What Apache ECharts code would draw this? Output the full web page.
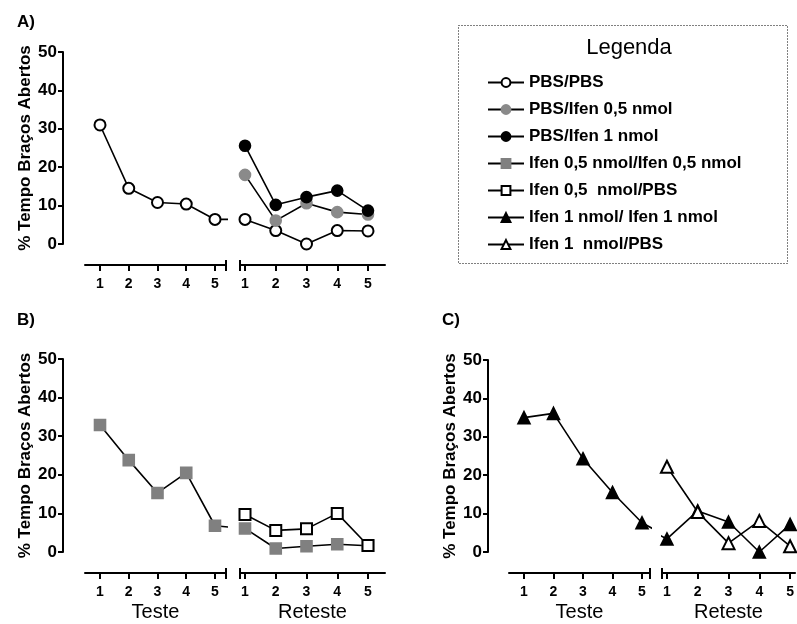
<!DOCTYPE html>
<head>
  <meta charset="utf-8">
  <script src="https://cdn.jsdelivr.net/npm/echarts@6/dist/echarts.min.js"></script>
  <style>
    body{margin:0;background:#fff;}
    #chart{width:797px;height:624px;}
  </style>
</head>
<body>
  <div id="chart"></div>
  <script>
    // sessions on both axes
    var sessions = [1, 2, 3, 4, 5];

    // A) PBS groups
    var pbsPbsTeste = [31, 14.5, 10.8, 10.4, 6.4];
    var pbsPbsReteste = [6.4, 3.5, 0, 3.5, 3.4];
    var pbsIfen05Reteste = [18, 6.1, 10.6, 8.3, 7.7];
    var pbsIfen1Reteste = [25.6, 10.2, 12.2, 13.9, 8.7];
    // B) Ifen 0,5 groups
    var ifen05Ifen05Teste = [32.9, 23.8, 15.3, 20.5, 6.8];
    var ifen05Ifen05Reteste = [6.1, 0.9, 1.5, 2.0, 1.6];
    var ifen05PbsReteste = [9.7, 5.6, 6.0, 10.0, 1.7];
    // C) Ifen 1 groups
    var ifen1Ifen1Teste = [35.0, 36.1, 24.3, 15.5, 7.6];
    var ifen1Ifen1Reteste = [3.4, 10.7, 7.8, 0, 7.2];
    var ifen1PbsReteste = [22.2, 10.4, 2.3, 8.1, 1.5];

    var names = ['PBS/PBS', 'PBS/Ifen 0,5 nmol', 'PBS/Ifen 1 nmol',
      'Ifen 0,5 nmol/Ifen 0,5 nmol', 'Ifen 0,5  nmol/PBS',
      'Ifen 1 nmol/ Ifen 1 nmol', 'Ifen 1  nmol/PBS'];

    var FONT = '"Liberation Sans", Arial, sans-serif';
    var styles = {};
    styles[names[0]] = {symbol: 'emptyCircle', color: '#000', size: 11};
    styles[names[1]] = {symbol: 'circle', color: '#8a8a8a', size: 11};
    styles[names[2]] = {symbol: 'circle', color: '#000', size: 11};
    styles[names[3]] = {symbol: 'rect', color: '#808080', size: 11};
    styles[names[4]] = {symbol: 'emptyRect', color: '#000', size: 11};
    styles[names[5]] = {symbol: 'triangle', color: '#000', size: 12};
    styles[names[6]] = {symbol: 'emptyTriangle', color: '#000', size: 12};

    // grid index: 0 A-teste, 1 A-reteste, 2 B-teste, 3 B-reteste, 4 C-teste, 5 C-reteste
    var grids = [
      {left: 85, top: 52, width: 141, height: 192},
      {left: 240, top: 52, width: 145, height: 192},
      {left: 85, top: 359, width: 141, height: 193},
      {left: 240, top: 359, width: 145, height: 193},
      {left: 509, top: 360, width: 141, height: 192},
      {left: 662, top: 360, width: 135, height: 192}
    ];
    var ranges = [[0.478, 5.383], [0.837, 5.553], [0.478, 5.383], [0.837, 5.553], [0.492, 5.271], [0.84, 5.16]];
    var axisNames = ['', '', 'Teste', 'Reteste', 'Teste', 'Reteste'];

    var xAxes = [], yAxes = [];
    grids.forEach(function(g, i){
      var isTeste = i % 2 === 0;
      var brk = isTeste ? ranges[i][1] : ranges[i][0];
      xAxes.push({
        type: 'value', gridIndex: i, min: ranges[i][0], max: ranges[i][1],
        position: 'bottom', offset: 21, splitLine: {show: false},
        axisLine: {show: true, onZero: false, lineStyle: {color: '#000', width: 2}},
        axisTick: {show: true, customValues: sessions.concat([brk]), length: 6, lineStyle: {color: '#000', width: 2}},
        axisLabel: {customValues: sessions, margin: 12, color: '#000', fontFamily: FONT, fontWeight: 'bold', fontSize: 14},
        name: axisNames[i], nameLocation: 'middle', nameGap: 29,
        nameTextStyle: {color: '#000', fontFamily: FONT, fontSize: 20}
      });
      // short break mark above the axis end
      xAxes.push({
        type: 'value', gridIndex: i, min: ranges[i][0], max: ranges[i][1],
        position: 'bottom', offset: 21, splitLine: {show: false},
        axisLine: {show: false, onZero: false},
        axisTick: {show: true, inside: true, customValues: [brk], length: 5, lineStyle: {color: '#000', width: 2}},
        axisLabel: {show: false}
      });
      yAxes.push({
        type: 'value', gridIndex: i, min: 0, max: 50, interval: 10,
        show: isTeste, offset: i === 4 ? 21 : 22, splitLine: {show: false},
        axisLine: {show: true, onZero: false, lineStyle: {color: '#000', width: 2}},
        axisTick: {show: true, length: 5, lineStyle: {color: '#000', width: 2}},
        axisLabel: {margin: 6, color: '#000', fontFamily: FONT, fontWeight: 'bold', fontSize: 17},
        name: '% Tempo Braços Abertos', nameLocation: 'middle', nameGap: 29,
        nameTextStyle: {color: '#000', fontFamily: FONT, fontWeight: 'bold', fontSize: 17}
      });
    });

    function points(values){
      return values.map(function(v, k){ return [sessions[k], v]; });
    }
    function makeSeries(name, gridIdx, values, bridge){
      var st = styles[name];
      var data = points(values);
      // bridge to the other side of the axis break (clipped by the grid)
      if (bridge !== undefined) {
        if (gridIdx % 2 === 0) data.push({value: [sessions.length + 1, bridge], symbol: 'none'});
        else data.unshift({value: [0, bridge], symbol: 'none'});
      }
      return {
        type: 'line', name: name, xAxisIndex: gridIdx * 2, yAxisIndex: gridIdx,
        data: data, clip: true, symbol: st.symbol, symbolSize: st.size, showAllSymbol: true,
        itemStyle: {color: st.color, borderColor: st.symbol.indexOf('empty') === 0 ? '#000' : st.color, borderWidth: 1.6},
        lineStyle: {color: '#000', width: 1.6},
        emphasis: {disabled: true}, animation: false
      };
    }

    var series = [
      makeSeries(names[0], 0, pbsPbsTeste, pbsPbsReteste[0]),
      makeSeries(names[0], 1, pbsPbsReteste, pbsPbsTeste[4]),
      makeSeries(names[1], 1, pbsIfen05Reteste),
      makeSeries(names[2], 1, pbsIfen1Reteste),
      makeSeries(names[3], 2, ifen05Ifen05Teste, ifen05Ifen05Reteste[0]),
      makeSeries(names[3], 3, ifen05Ifen05Reteste, ifen05Ifen05Teste[4]),
      makeSeries(names[4], 3, ifen05PbsReteste),
      makeSeries(names[5], 4, ifen1Ifen1Teste, ifen1Ifen1Reteste[0]),
      makeSeries(names[5], 5, ifen1Ifen1Reteste, ifen1Ifen1Teste[4]),
      makeSeries(names[6], 5, ifen1PbsReteste)
    ];

    var panelTitle = {fontFamily: FONT, fontWeight: 'bold', fontSize: 17, color: '#000'};
    var chart = echarts.init(document.getElementById('chart'));
    chart.setOption({
      animation: false,
      backgroundColor: '#fff',
      title: [
        {text: 'A)', left: 12, top: 9, textStyle: panelTitle},
        {text: 'B)', left: 12, top: 307, textStyle: panelTitle},
        {text: 'C)', left: 437, top: 307, textStyle: panelTitle},
        {text: 'Legenda', left: 624, top: 32, textAlign: 'center', textStyle: {fontFamily: FONT, fontWeight: 'normal', fontSize: 22, color: '#000'}}
      ],
      graphic: [{
        type: 'rect', shape: {x: 458.5, y: 25.5, width: 329, height: 238},
        style: {fill: 'none', stroke: '#000', lineWidth: 1, lineDash: [1, 2]}, silent: true
      }],
      legend: {
        data: names, orient: 'vertical', left: 482, top: 69,
        itemWidth: 36, itemHeight: 11, itemGap: 10, selectedMode: false,
        textStyle: {fontFamily: FONT, fontWeight: 'bold', fontSize: 17, color: '#000'}
      },
      grid: grids,
      xAxis: xAxes,
      yAxis: yAxes,
      series: series
    });
  </script>
</body>
